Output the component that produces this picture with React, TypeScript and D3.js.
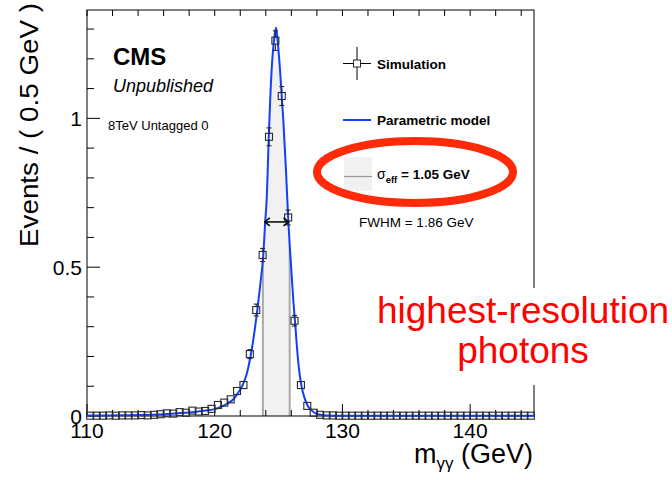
import React from 'react';
import * as d3 from 'd3';

const W = 672;
const H = 480;

// bins of 0.5 GeV between 110 and 145
const binCenters = d3.range(110.25, 145, 0.5);
const simValues = [
  0.001, 0.001, 0.001, 0.002, 0.001, 0.002, 0.002, 0.002, 0.003, 0.002,
  0.004, 0.006, 0.009, 0.008, 0.013, 0.011, 0.018, 0.015, 0.017, 0.024,
  0.037, 0.045, 0.056, 0.084, 0.104, 0.208, 0.356, 0.541, 0.938, 1.261,
  1.075, 0.667, 0.32, 0.104, 0.034, 0.011, 0.004, 0.002, 0.002, 0.001,
  0.001, 0.001, 0.001, 0.001, 0.001, 0.001, 0.001, 0.001, 0.001, 0.001,
  0.001, 0.001, 0.001, 0.001, 0.001, 0.001, 0.001, 0.001, 0.001, 0.001,
  0.001, 0.001, 0.001, 0.001, 0.001, 0.001, 0.001, 0.001, 0.001, 0.001,
];
const simErrors = [
  0.002, 0.002, 0.002, 0.002, 0.002, 0.002, 0.002, 0.002, 0.002, 0.002,
  0.003, 0.003, 0.004, 0.004, 0.004, 0.004, 0.005, 0.005, 0.005, 0.006,
  0.007, 0.008, 0.009, 0.01, 0.011, 0.015, 0.02, 0.022, 0.03, 0.033,
  0.032, 0.025, 0.018, 0.011, 0.006, 0.004, 0.002, 0.002, 0.002, 0.002,
  0.002, 0.002, 0.002, 0.002, 0.002, 0.002, 0.002, 0.002, 0.002, 0.002,
  0.002, 0.002, 0.002, 0.002, 0.002, 0.002, 0.002, 0.002, 0.002, 0.002,
  0.002, 0.002, 0.002, 0.002, 0.002, 0.002, 0.002, 0.002, 0.002, 0.002,
];

// parametric model
const modelMass = [
  110, 112, 114, 116, 117, 118, 119, 120, 120.5, 121, 121.5, 121.9, 122.2,
  122.5, 122.8, 123.0, 123.3, 123.55, 123.8, 123.95, 124.07, 124.25, 124.46,
  124.65, 124.8, 124.95, 125.11, 125.37, 125.58, 125.76, 125.9, 126.15, 126.3,
  126.5, 126.65, 126.81, 127.0, 127.25, 127.6, 128.0, 128.8, 130, 135, 140, 145,
];
const modelValues = [
  0.0015, 0.002, 0.003, 0.006, 0.009, 0.012, 0.017, 0.023, 0.031, 0.042,
  0.058, 0.082, 0.105, 0.14, 0.2, 0.25, 0.345, 0.435, 0.54, 0.65, 0.73,
  0.96, 1.165, 1.265, 1.305, 1.25, 1.165, 0.995, 0.826, 0.658, 0.556, 0.39,
  0.31, 0.2, 0.14, 0.098, 0.065, 0.037, 0.018, 0.007, 0.002, 0.001, 0.001,
  0.001, 0.001,
];

const xMajorTicks = [110, 120, 130, 140];
const xMinorTicks = [112, 114, 116, 118, 122, 124, 126, 128, 132, 134, 136, 138, 142, 144];
const yMajorTicks = [0, 0.5, 1];
const yMajorLabels = ['0', '0.5', '1'];
const yMinorTicks = [0.1, 0.2, 0.3, 0.4, 0.6, 0.7, 0.8, 0.9, 1.1, 1.2, 1.3];

const sigmaEffRange = [123.77, 125.87];
const fwhmRange = [123.92, 125.78];
const fwhmLevel = 0.652;

const FONT = "'Liberation Sans', Arial, Helvetica, sans-serif";
const BLUE = '#1040ff';

export default function App() {
  const x = d3.scaleLinear().domain([110, 145]).range([87, 534]);
  const y = d3.scaleLinear().domain([0, 1.364]).range([416, 10]);

  const pts: [number, number][] = modelMass.map((m, i) => [m, modelValues[i]]);
  const line = d3
    .line<[number, number]>()
    .x((d) => x(d[0]))
    .y((d) => y(d[1]))
    .curve(d3.curveMonotoneX);
  const area = d3
    .area<[number, number]>()
    .x((d) => x(d[0]))
    .y0(y(0))
    .y1((d) => y(d[1]))
    .curve(d3.curveMonotoneX);

  const curvePath = line(pts) || '';
  const areaPath = area(pts) || '';

  const x0 = x(110), x1 = x(145), yb = y(0), yt = y(1.364);
  const half = 3.5;

  return (
    <svg
      width={W}
      height={H}
      style={{ position: 'absolute', left: 0, top: 0, background: '#fff' }}
      fontFamily={FONT}
    >
      <defs>
        <clipPath id="bandClip">
          <rect x={x(sigmaEffRange[0])} y={yt} width={x(sigmaEffRange[1]) - x(sigmaEffRange[0])} height={yb - yt} />
        </clipPath>
        <clipPath id="underClip">
          <path d={areaPath} />
        </clipPath>
      </defs>
      <rect x={0} y={0} width={W} height={H} fill="#fff" />

      {/* sigma_eff band */}
      <path d={areaPath} fill="#f1f1f1" clipPath="url(#bandClip)" />
      <g clipPath="url(#underClip)">
        {sigmaEffRange.map((m, i) => (
          <line key={i} x1={x(m)} x2={x(m)} y1={yb} y2={yt} stroke="#a8a8a8" strokeWidth={2} />
        ))}
      </g>

      {/* frame */}
      <rect x={x0} y={yt} width={x1 - x0} height={yb - yt} fill="none" stroke="#000" strokeWidth={1} />

      {/* x ticks */}
      {xMajorTicks.map((t) => (
        <g key={'xM' + t}>
          <line x1={x(t)} x2={x(t)} y1={yb} y2={yb - 12} stroke="#000" />
          <line x1={x(t)} x2={x(t)} y1={yt} y2={yt + 6} stroke="#000" />
          <text x={x(t)} y={438} fontSize={21} textAnchor="middle">{t}</text>
        </g>
      ))}
      {xMinorTicks.map((t) => (
        <g key={'xm' + t}>
          <line x1={x(t)} x2={x(t)} y1={yb} y2={yb - 6} stroke="#000" />
          <line x1={x(t)} x2={x(t)} y1={yt} y2={yt + 6} stroke="#000" />
        </g>
      ))}
      {/* y ticks */}
      {yMajorTicks.map((t, i) => (
        <g key={'yM' + t}>
          <line x1={x0} x2={x0 + 13} y1={y(t)} y2={y(t)} stroke="#000" />
          <text x={82} y={y(t)} fontSize={21} textAnchor="end" dominantBaseline="central">{yMajorLabels[i]}</text>
        </g>
      ))}
      {yMinorTicks.map((t) => (
        <line key={'ym' + t} x1={x0} x2={x0 + 7} y1={y(t)} y2={y(t)} stroke="#000" />
      ))}

      {/* model */}
      <path d={curvePath} fill="none" stroke={BLUE} strokeWidth={2} />

      {/* simulation points */}
      {binCenters.map((m, i) => {
        const cx = x(m);
        const cy = y(simValues[i]);
        const top = y(simValues[i] + simErrors[i]);
        const bot = y(simValues[i] - simErrors[i]);
        return (
          <g key={'p' + i} stroke="#2a2a2a" strokeWidth={1.1} fill="none">
            {top < cy - half && (
              <>
                <line x1={cx} x2={cx} y1={cy - half} y2={top} />
                <line x1={cx - 2.5} x2={cx + 2.5} y1={top} y2={top} />
              </>
            )}
            {bot > cy + half && (
              <>
                <line x1={cx} x2={cx} y1={cy + half} y2={bot} />
                <line x1={cx - 2.5} x2={cx + 2.5} y1={bot} y2={bot} />
              </>
            )}
            <rect x={cx - half} y={cy - half} width={half * 2} height={half * 2} />
          </g>
        );
      })}

      {/* FWHM arrow */}
      <g stroke="#000" strokeWidth={1.5} fill="none">
        <line x1={x(fwhmRange[0])} x2={x(fwhmRange[1])} y1={y(fwhmLevel)} y2={y(fwhmLevel)} />
        <polyline points={`${x(fwhmRange[0]) + 5},${y(fwhmLevel) - 4} ${x(fwhmRange[0])},${y(fwhmLevel)} ${x(fwhmRange[0]) + 5},${y(fwhmLevel) + 4}`} />
        <polyline points={`${x(fwhmRange[1]) - 5},${y(fwhmLevel) - 4} ${x(fwhmRange[1])},${y(fwhmLevel)} ${x(fwhmRange[1]) - 5},${y(fwhmLevel) + 4}`} />
      </g>

      {/* labels */}
      <text x={113} y={65} fontSize={24} fontWeight="bold">CMS</text>
      <text x={113} y={91.5} fontSize={18} fontStyle="italic">Unpublished</text>
      <text x={108} y={130} fontSize={13}>8TeV Untagged 0</text>

      {/* legend */}
      <g stroke="#000" strokeWidth={1}>
        <line x1={343} x2={371} y1={63.5} y2={63.5} />
        <line x1={357} x2={357} y1={47} y2={80} />
        <rect x={353.5} y={60} width={7} height={7} fill="#fff" stroke="#2a2a2a" />
      </g>
      <text x={377} y={68.5} fontSize={13.5} fontWeight="bold">Simulation</text>
      <line x1={343} x2={371} y1={120} y2={120} stroke={BLUE} strokeWidth={2} />
      <text x={377} y={124.5} fontSize={13.5} fontWeight="bold">Parametric model</text>
      <rect x={344} y={157} width={28} height={34} fill="#f1f1f1" />
      <line x1={344} x2={372} y1={176.5} y2={176.5} stroke="#999" strokeWidth={1.2} />
      <text x={377} y={178.5} fontSize={13.5} fontWeight="bold">
        <tspan fontWeight="normal" fontSize={14}>σ</tspan>
        <tspan fontSize={9.5} dy={4}>eff</tspan>
        <tspan dy={-4}> = 1.05 GeV</tspan>
      </text>
      <text x={359} y={227} fontSize={13.5}>FWHM = 1.86 GeV</text>

      {/* red ellipse */}
      <ellipse cx={415} cy={172} rx={98} ry={31} fill="none" stroke="#ff2a0a" strokeWidth={8} />

      {/* axis titles */}
      <text
        transform="translate(37.5,3) rotate(-90)"
        fontSize={25}
        textAnchor="end"
        textLength={244}
        lengthAdjust="spacingAndGlyphs"
      >
        Events / ( 0.5 GeV )
      </text>
      <text x={533} y={463} fontSize={27} textAnchor="end">
        m<tspan fontSize={17} dy={6}>γγ</tspan>
        <tspan dy={-6}> (GeV)</tspan>
      </text>

      {/* annotation */}
      <rect x={372} y={288} width={300} height={97} fill="#fff" />
      <text x={523} y={323} fontSize={37} fill="#ff0000" textAnchor="middle">highest-resolution</text>
      <text x={523} y={363} fontSize={37} fill="#ff0000" textAnchor="middle">photons</text>
    </svg>
  );
}
